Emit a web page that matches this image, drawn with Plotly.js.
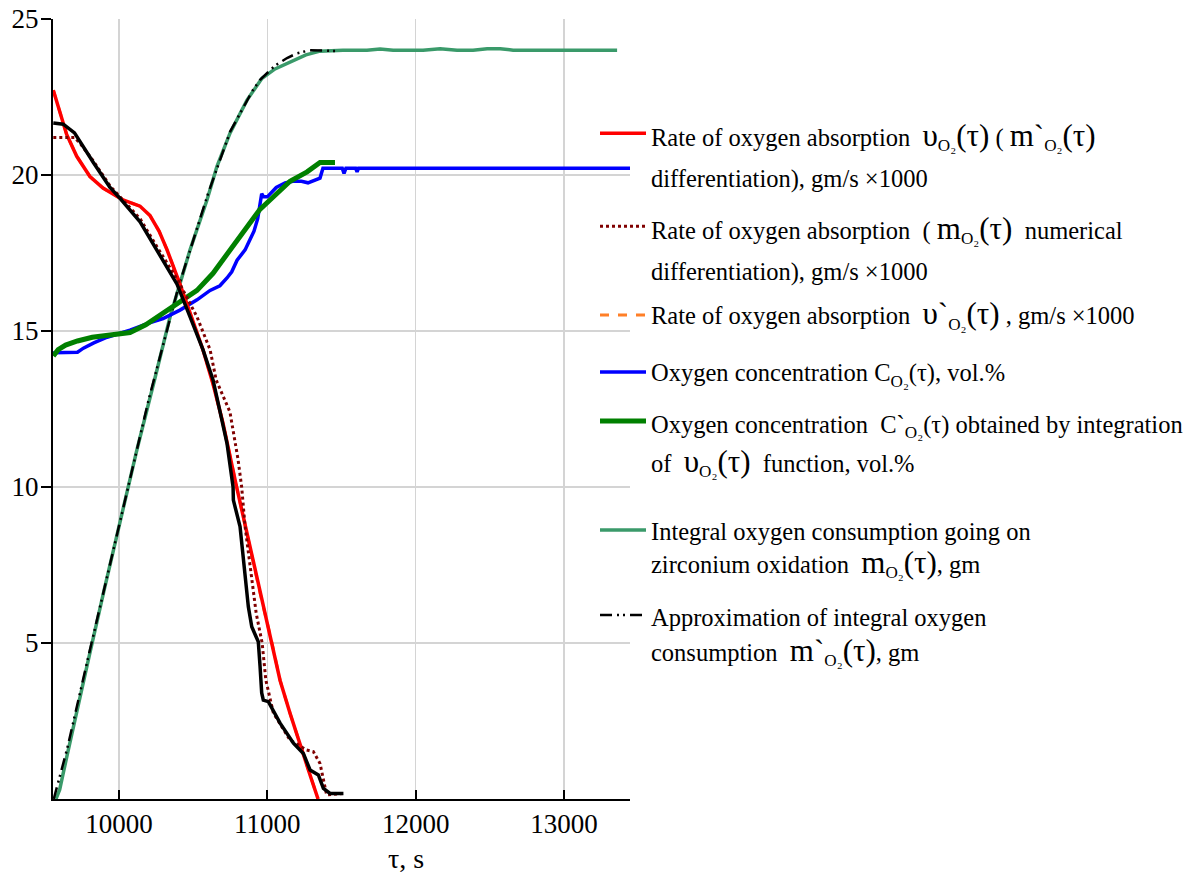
<!DOCTYPE html>
<html><head><meta charset="utf-8">
<script src="https://cdn.plot.ly/plotly-3.0.1.min.js"></script>
<style>body{margin:0;background:#fff}</style>
</head><body><div id="chart" style="width:1204px;height:873px"></div>
<script>
// ---- data ----
const redX = [9557,9591,9647,9715,9804,9892,10027,10142,10209,10270,10324,10411,10465,10566,10634,10701,10793,10863,10951,11030,11086,11153,11220,11288,11342];
const redY = [22.72,22.2,21.3,20.6,19.95,19.58,19.2,19.0,18.7,18.2,17.6,16.5,15.77,14.4,13.3,12.05,10.0,8.5,6.6,5.03,3.8,2.75,1.73,0.77,0.0];

const dotX = [9557,9700,9740,9827,9939,10007,10142,10256,10400,10526,10614,10655,10748,10802,10827,10850,10883,10925,10965,10990,11041,11153,11265,11310,11355,11378,11400,11513];
const dotY = [21.2,21.2,21.0,20.45,19.65,19.3,18.6,17.7,16.6,15.45,14.4,13.43,12.4,10.9,10.0,8.73,7.44,5.95,5.0,3.81,2.75,1.89,1.57,1.52,1.14,0.61,0.13,0.18];

const blackX = [9557,9624,9700,9737,9827,9939,10007,10142,10256,10391,10479,10566,10634,10728,10769,10771,10816,10838,10850,10872,10895,10939,10951,10962,10973,11007,11086,11176,11243,11288,11344,11378,11423,11513];
const blackY = [21.67,21.63,21.35,21.07,20.4,19.6,19.25,18.5,17.6,16.5,15.45,14.4,13.43,11.4,10.0,9.58,8.73,7.66,7.02,6.16,5.52,5.04,4.24,3.4,3.17,3.12,2.43,1.79,1.46,0.93,0.77,0.34,0.18,0.18];

const blueX = [9557,9720,9760,9830,9920,10000,10074,10200,10297,10411,10526,10614,10680,10728,10760,10796,10850,10880,10910,10935,10950,10962,10975,11000,11060,11120,11173,11230,11274,11330,11355,11375,11505,11517,11530,11595,11605,11615,13445];
const blueY = [14.3,14.32,14.45,14.62,14.8,14.92,15.03,15.25,15.4,15.67,16.0,16.3,16.45,16.7,16.9,17.27,17.6,17.9,18.2,18.6,19.0,19.4,19.3,19.3,19.6,19.75,19.8,19.8,19.75,19.85,19.9,20.22,20.22,20.05,20.22,20.22,20.1,20.22,20.22];

const greenX = [9557,9590,9640,9720,9820,9950,10074,10180,10297,10411,10526,10634,10749,10850,10950,11018,11090,11153,11268,11355,11456];
const greenY = [14.2,14.4,14.55,14.68,14.8,14.88,14.95,15.2,15.57,15.9,16.3,16.85,17.6,18.3,18.9,19.2,19.55,19.8,20.1,20.4,20.4];

const tealX = [9575,9600,9650,9700,9800,9900,10000,10121,10243,10344,10479,10593,10660,10749,10863,10964,11052,11173,11260,11355,11510,11672,11760,11848,12050,12165,12279,12387,12482,12570,12657,13358];
const tealY = [0,0.3,1.4,2.5,4.6,6.7,8.7,11.2,13.5,15.45,17.6,19.2,20.27,21.35,22.4,23.1,23.4,23.65,23.85,23.97,24.0,24.0,24.04,24.0,24.0,24.05,24.0,24.0,24.05,24.05,24.0,24.0];

const approxX = [9560,9650,9800,10000,10200,10400,10600,10750,10900,10951,11050,11133,11200,11288,11470];
const approxY = [0,1.6,4.7,8.8,12.8,16.4,19.4,21.4,22.7,23.05,23.5,23.75,23.9,24.0,23.97];

const xTicks = [10000,11000,12000,13000];
const yTicks = [5,10,15,20,25];

const names = [
 ['Rate of oxygen absorption  @υ@<sub>O₂</sub>@(τ)@ ( @m`@<sub>O₂</sub>@(τ)@', 'differentiation), gm/s ×1000'],
 ['Rate of oxygen absorption  ( @m@<sub>O₂</sub>@(τ)@  numerical', 'differentiation), gm/s ×1000'],
 ['Rate of oxygen absorption  @υ`@<sub>O₂</sub>@(τ)@ , gm/s ×1000'],
 ['Oxygen concentration C<sub>O₂</sub>(τ), vol.%'],
 ['Oxygen concentration  C`<sub>O₂</sub>(τ) obtained by integration', 'of  @υ@<sub>O₂</sub>@(τ)@  function, vol.%'],
 ['Integral oxygen consumption going on', 'zirconium oxidation  @m@<sub>O₂</sub>@(τ)@, gm'],
 ['Approximation of integral oxygen', 'consumption  @m`@<sub>O₂</sub>@(τ)@, gm']
];
// ---------------------------------------

const FONT = '"Liberation Serif", "Times New Roman", Times, serif';
function fmt(lines){
  return lines.map(l => {
    const parts = l.split('@');
    const s = parts.map((p,i)=> i%2 ? '<span style="font-size:31px">'+p+'</span>' : p).join('');
    return '<span style="font-size:24.5px">'+s+'</span>';
  }).join('<br>');
}

const traces = [
  {x:tealX, y:tealY, name:fmt(names[5]), legend:'legend6', line:{color:'#3a9a6a', width:3.5}},
  {x:approxX, y:approxY, name:fmt(names[6]), legend:'legend7', line:{color:'#000', width:2.5, dash:'12px,5px,2px,4px,2px,5px'}},
  {x:blueX, y:blueY, name:fmt(names[3]), legend:'legend4', line:{color:'#0000ff', width:3.5}},
  {x:greenX, y:greenY, name:fmt(names[4]), legend:'legend5', line:{color:'#008000', width:5}},
  {x:redX, y:redY, name:fmt(names[2]), legend:'legend3', line:{color:'#ff7f27', width:3, dash:'dash'}},
  {x:redX, y:redY, name:fmt(names[0]), legend:'legend', line:{color:'#ff0000', width:3.5}},
  {x:dotX, y:dotY, name:fmt(names[1]), legend:'legend2', line:{color:'#800000', width:3, dash:'dot'}},
  {x:blackX, y:blackY, name:'', showlegend:false, line:{color:'#000', width:3.5}}
].map(t => Object.assign({type:'scatter', mode:'lines', hoverinfo:'skip'}, t));

function leg(top, base){
  return {xref:'container', yref:'container', x:595/1204, y:1-top/873, xanchor:'left', yanchor:'top',
    bgcolor:'rgba(0,0,0,0)', borderwidth:0, valign:'top', itemwidth:46, tracegroupgap:0,
    font:{family:FONT, size:base, color:'#000'}};
}

const layout = {
  width:1204, height:873,
  margin:{l:53, r:574, t:19, b:74, autoexpand:false},
  paper_bgcolor:'#fff', plot_bgcolor:'#fff',
  font:{family:FONT, color:'#000'},
  showlegend:true,
  xaxis:{range:[9555,13445], tickvals:xTicks, ticktext:xTicks.map(String), showgrid:true, gridcolor:'#d4d4d4', gridwidth:1.5,
    showline:true, linecolor:'#000', linewidth:2, ticks:'inside', ticklen:9, tickwidth:2, tickcolor:'#000',
    tickfont:{family:FONT, size:27, color:'#000'}, zeroline:false, automargin:false},
  yaxis:{range:[0,25], tickvals:yTicks, ticktext:yTicks.map(String), showgrid:true, gridcolor:'#d4d4d4', gridwidth:1.5,
    showline:true, linecolor:'#000', linewidth:2, ticks:'outside', ticklen:10, tickwidth:2, tickcolor:'#000',
    ticklabelstandoff:-3,
    tickfont:{family:FONT, size:27, color:'#000'}, zeroline:false, automargin:false},
  legend: leg(106, 32),
  legend2: leg(199, 32),
  legend3: leg(293, 24),
  legend4: leg(350, 24),
  legend5: leg(395, 30),
  legend6: leg(507, 25.5),
  legend7: leg(591, 27),
  annotations:[{text:'τ, s', xref:'paper', yref:'paper', x:(406-53)/577, y:(799-858)/780, xanchor:'center', yanchor:'middle',
    showarrow:false, font:{family:FONT, size:28, color:'#000'}}]
};

Plotly.newPlot('chart', traces, layout, {displayModeBar:false, staticPlot:true});
</script></body></html>
